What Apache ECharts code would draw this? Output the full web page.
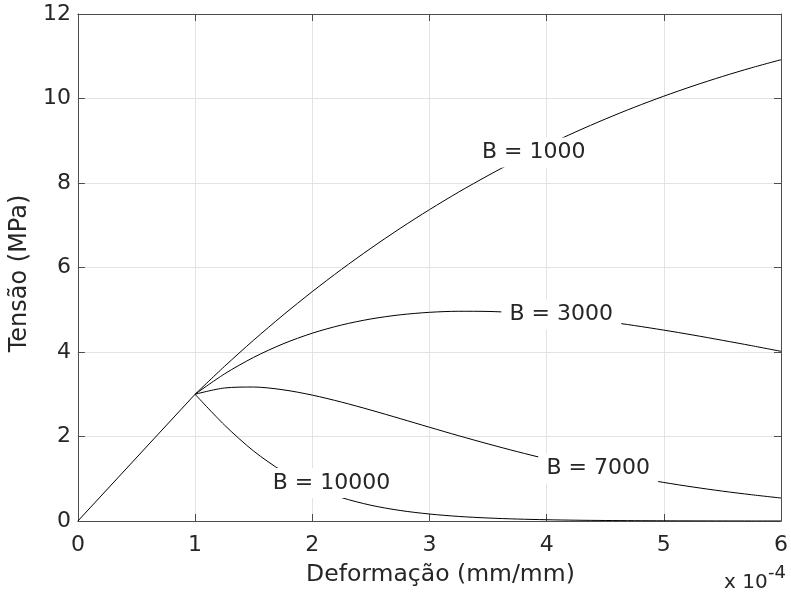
<!DOCTYPE html>
<html>
<head>
<meta charset="utf-8">
<script src="https://cdn.jsdelivr.net/npm/echarts@6/dist/echarts.min.js"></script>
<style>
html,body{margin:0;padding:0;background:#fff;}
#chart{width:791px;height:595px;}
</style>
</head>
<body>
<div id="chart"></div>
<script>
// Strain (x 10^-4 mm/mm)
const strainLinear = [0, 1];
const stressLinear = [0, 3];
const strain = [1, 1.25, 1.5, 1.75, 2, 2.25, 2.5, 2.75, 3, 3.25, 3.5, 3.75, 4, 4.25, 4.5, 4.75, 5, 5.25, 5.5, 5.75, 6];
const stressB1000 = [3, 3.657, 4.281, 4.871, 5.429, 5.957, 6.455, 6.926, 7.369, 7.786, 8.177, 8.545, 8.890, 9.212, 9.513, 9.794, 10.055, 10.297, 10.521, 10.728, 10.918];
const stressB3000 = [3, 3.479, 3.873, 4.192, 4.445, 4.639, 4.782, 4.880, 4.939, 4.964, 4.960, 4.930, 4.879, 4.809, 4.724, 4.626, 4.518, 4.401, 4.277, 4.149, 4.016];
const stressB7000 = [3, 3.148, 3.171, 3.106, 2.980, 2.814, 2.625, 2.424, 2.219, 2.018, 1.825, 1.641, 1.469, 1.311, 1.165, 1.032, 0.912, 0.804, 0.707, 0.621, 0.544];
const stressB10000 = [3, 2.274, 1.655, 1.171, 0.812, 0.554, 0.373, 0.249, 0.165, 0.108, 0.071, 0.046, 0.030, 0.019, 0.012, 0.008, 0.005, 0.003, 0.002, 0.001, 0.001];
const labelTexts = ['B = 1000', 'B = 3000', 'B = 7000', 'B = 10000'];
const labelX = [3.89, 4.125, 4.44, 2.164];
const labelY = [8.72, 4.888, 1.243, 0.899];
const xTicks = [0, 1, 2, 3, 4, 5, 6];
const yTicks = [0, 2, 4, 6, 8, 10, 12];

const FONT = 'DejaVu Sans';
const TXT = '#262626';
const AX = '#4d4d4d';
const zip = (xs, ys) => xs.map((x, i) => [x, ys[i]]);

const lineSeries = (data, smooth) => ({
  type: 'line', data: data, showSymbol: false, symbol: 'none', smooth: smooth,
  lineStyle: { color: '#000', width: 1 }, z: 3, silent: true
});

const chart = echarts.init(document.getElementById('chart'), null, { renderer: 'canvas' });
const option = {
  animation: false,
  backgroundColor: '#fff',
  grid: { left: 76, right: 8, top: 14, bottom: 74, containLabel: false },
  xAxis: [{
    type: 'value', min: xTicks[0], max: xTicks[xTicks.length - 1], interval: 1,
    position: 'bottom',
    name: 'Deformação (mm/mm)', nameLocation: 'middle', nameGap: 42,
    nameTextStyle: { fontFamily: FONT, fontSize: 23.5, color: TXT, padding: [0, 0, 0, 22] },
    axisLine: { show: true, onZero: false, lineStyle: { color: AX, width: 1 } },
    axisTick: { show: true, inside: true, length: 7, lineStyle: { color: AX } },
    axisLabel: { fontFamily: FONT, fontSize: 22, color: TXT, margin: 13 },
    splitLine: { show: true, lineStyle: { color: '#e3e3e3', width: 1 } }
  }, {
    type: 'value', min: xTicks[0], max: xTicks[xTicks.length - 1], interval: 1,
    position: 'top',
    axisLine: { show: true, onZero: false, lineStyle: { color: AX, width: 1 } },
    axisTick: { show: true, inside: true, length: 7, lineStyle: { color: AX } },
    axisLabel: { show: false }, splitLine: { show: false }
  }],
  yAxis: [{
    type: 'value', min: yTicks[0], max: yTicks[yTicks.length - 1], interval: 2,
    position: 'left',
    name: 'Tensão (MPa)', nameLocation: 'middle', nameGap: 32,
    nameTextStyle: { fontFamily: FONT, fontSize: 24, color: TXT, padding: [0, 12, 0, 0] },
    axisLine: { show: true, onZero: false, lineStyle: { color: AX, width: 1 } },
    axisTick: { show: true, inside: true, length: 7, lineStyle: { color: AX } },
    axisLabel: { fontFamily: FONT, fontSize: 22, color: TXT, margin: 7 },
    splitLine: { show: true, lineStyle: { color: '#e3e3e3', width: 1 } }
  }, {
    type: 'value', min: yTicks[0], max: yTicks[yTicks.length - 1], interval: 2,
    position: 'right',
    axisLine: { show: true, onZero: false, lineStyle: { color: AX, width: 1 } },
    axisTick: { show: true, inside: true, length: 7, lineStyle: { color: AX } },
    axisLabel: { show: false }, splitLine: { show: false }
  }],
  series: [
    lineSeries(zip(strainLinear, stressLinear), false),
    lineSeries(zip(strain, stressB1000), 0.3),
    lineSeries(zip(strain, stressB3000), 0.3),
    lineSeries(zip(strain, stressB7000), 0.3),
    lineSeries(zip(strain, stressB10000), 0.3),
    {
      type: 'scatter', z: 5, silent: true,
      symbol: 'rect',
      itemStyle: { color: '#ffffff', opacity: 1 },
      data: labelTexts.map((t, i) => ({
        value: [labelX[i], labelY[i]], name: t,
        symbolSize: [t.length > 8 ? 134 : 120, 30]
      })),
      label: {
        show: true, position: 'inside', formatter: p => p.name,
        fontFamily: FONT, fontSize: 22, color: TXT, opacity: 1,
        textBorderWidth: 0
      },
      emphasis: { disabled: true }
    }
  ],
  graphic: [{
    type: 'text', left: 724, top: 573,
    style: { text: 'x 10', fontFamily: FONT, fontSize: 20, fill: TXT }
  }, {
    type: 'text', left: 768, top: 564,
    style: { text: '-4', fontFamily: FONT, fontSize: 18, fill: TXT }
  }]
};
chart.setOption(option);
</script>
</body>
</html>
